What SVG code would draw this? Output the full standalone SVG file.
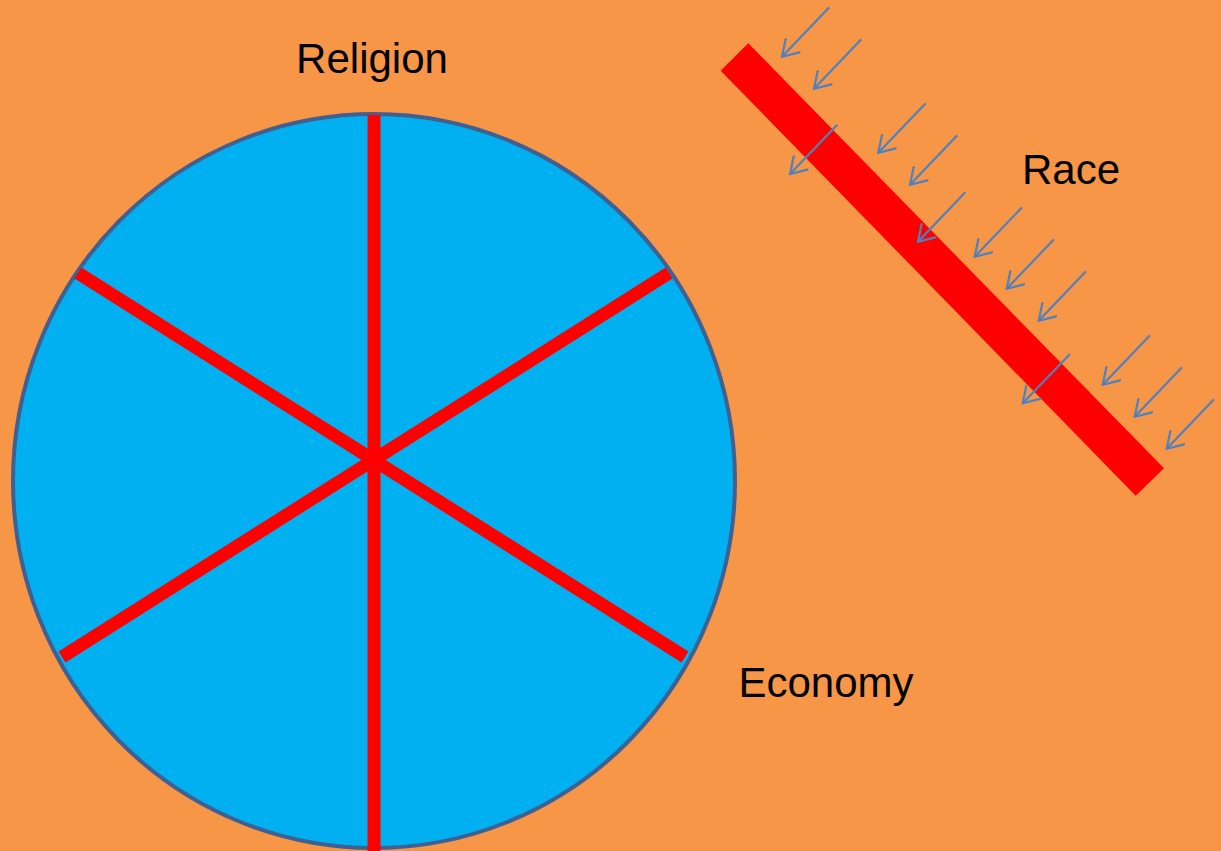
<svg xmlns="http://www.w3.org/2000/svg" width="1221" height="851" viewBox="0 0 1221 851">
<style>
.lbl{font-family:"Liberation Sans",Arial,sans-serif;font-size:42px;fill:#000;text-anchor:middle}
.spoke{stroke:#FF0000;stroke-width:13;fill:none}
.arr{stroke:#4F81BD;stroke-width:2.2;fill:none;marker-end:url(#ah)}
</style>
<defs>
<marker id="ah" markerUnits="userSpaceOnUse" viewBox="0 0 20 24" markerWidth="20" markerHeight="24" refX="18" refY="12" orient="auto">
<path d="M2,2 L18,12 L2,22" fill="none" stroke="#4F81BD" stroke-width="2.2"/>
</marker>
</defs>
<rect width="1221" height="851" fill="#F79646"/>
<g id="wheel">
<ellipse cx="374" cy="481" rx="361" ry="367" fill="#00B0F0" stroke="#3F6090" stroke-width="4"/>
<line class="spoke" x1="374" y1="115" x2="374" y2="851"/>
<line class="spoke" x1="78" y1="273" x2="685" y2="657"/>
<line class="spoke" x1="669" y1="273" x2="62" y2="657"/>
</g>
<g id="barrier">
<polygon points="748.3,43.3 720.7,70.7 1135.7,495.7 1164,468.3" fill="#FF0000"/>
</g>
<g id="connectors">
<line class="arr" x1="829.3" y1="7.3" x2="782" y2="56.7"/>
<line class="arr" x1="861.3" y1="39.3" x2="814" y2="88.7"/>
<line class="arr" x1="837.3" y1="124.7" x2="790" y2="174"/>
<line class="arr" x1="925.7" y1="103.3" x2="878.3" y2="152.7"/>
<line class="arr" x1="957.3" y1="135.3" x2="910" y2="184.7"/>
<line class="arr" x1="965.3" y1="192.3" x2="918" y2="241.7"/>
<line class="arr" x1="1022" y1="207.3" x2="974.7" y2="256.7"/>
<line class="arr" x1="1054" y1="239.3" x2="1006.7" y2="288.7"/>
<line class="arr" x1="1086" y1="271.3" x2="1038.7" y2="320.7"/>
<line class="arr" x1="1070" y1="354" x2="1022.7" y2="403.3"/>
<line class="arr" x1="1150" y1="335.3" x2="1102.7" y2="384.7"/>
<line class="arr" x1="1182" y1="367.3" x2="1134.7" y2="416.7"/>
<line class="arr" x1="1214" y1="399.3" x2="1166.7" y2="448.7"/>
</g>
<g id="religion"><text class="lbl" x="372" y="73">Religion</text></g>
<g id="race"><text class="lbl" x="1071" y="184">Race</text></g>
<g id="economy"><text class="lbl" x="826" y="697">Economy</text></g>
</svg>
